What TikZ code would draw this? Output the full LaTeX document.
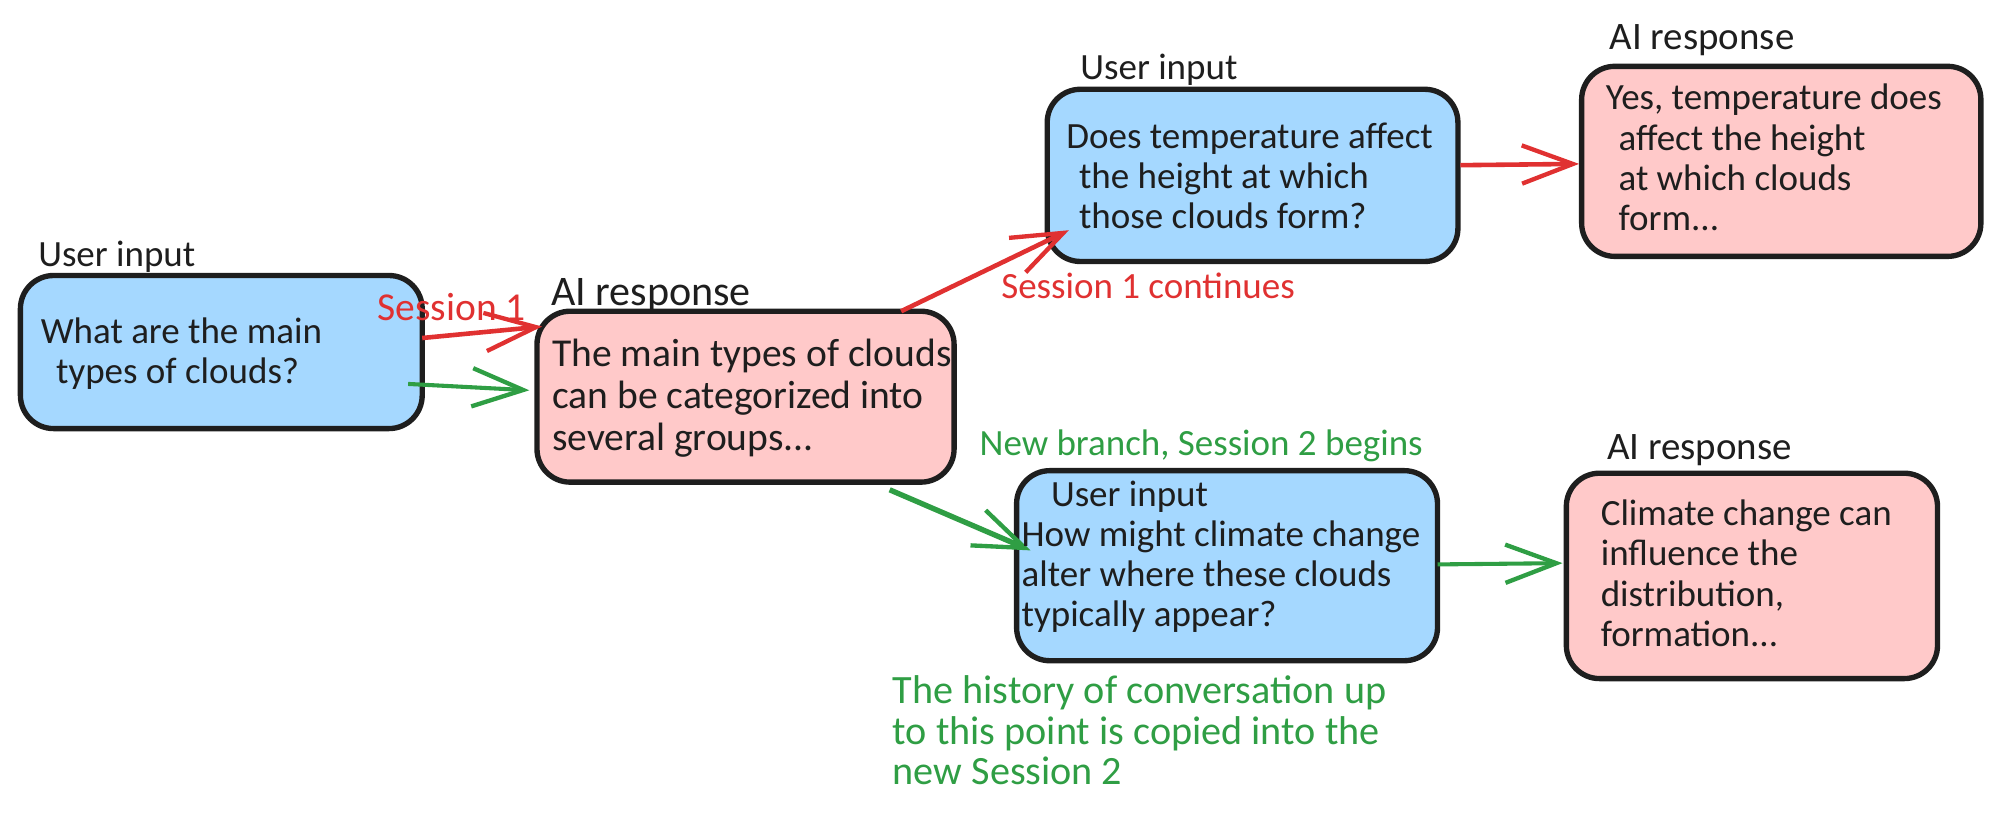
\documentclass[tikz,border=0pt]{standalone}
\usepackage{fontspec}
\setmainfont{Carlito}
\usetikzlibrary{arrows.meta}
\definecolor{ink}{HTML}{1E1E1E}
\definecolor{bluefill}{HTML}{A5D8FF}
\definecolor{pinkfill}{HTML}{FFC9C9}
\definecolor{redline}{HTML}{E03131}
\definecolor{greenline}{HTML}{2F9E44}
\tikzset{
  card/.style={draw=ink,line width=4.2pt,rounded corners=26pt,inner sep=0pt,outer sep=0pt,anchor=north west},
  bluecard/.style={card,fill=bluefill},
  pinkcard/.style={card,fill=pinkfill},
  txt/.style={inner sep=0pt,outer sep=0pt,anchor=north west,align=left,text=ink,font=\fontsize{29}{31.5}\selectfont},
  bigtxt/.style={txt,font=\fontsize{31}{33}\selectfont},
  airesp/.style={txt,font=\fontsize{30.5}{33}\selectfont},
  redtxt/.style={txt,text=redline},
  greentxt/.style={txt,text=greenline},
  tipshape/.style={-{Straight Barb[length=40pt,width=30pt,line width=3.4pt]}},
  redarrow/.style={tipshape,draw=redline,line width=3.6pt},
  greenarrow/.style={tipshape,draw=greenline,line width=3.2pt},
}
\begin{document}
\begin{tikzpicture}[x=1pt,y=-1pt]
\useasboundingbox (0,0) rectangle (1568,644.5);
\node[bluecard,minimum width=315pt,minimum height=120pt] (a) at (16,216) {};
\node[pinkcard,minimum width=327pt,minimum height=134pt] (b) at (421,244) {};
\node[bluecard,minimum width=322pt,minimum height=135pt] (c) at (821,70) {};
\node[pinkcard,minimum width=313pt,minimum height=149pt] (d) at (1240,52) {};
\node[bluecard,minimum width=330pt,minimum height=149pt] (e) at (797,369) {};
\node[pinkcard,minimum width=291pt,minimum height=161pt] (f) at (1228,371) {};

\draw[redarrow] ([yshift=11pt]a.east) -- ([xshift=4pt,yshift=55pt]b.west);
\draw[greenarrow] ([xshift=-11pt,yshift=-25pt]a.east) -- ([xshift=-6pt,yshift=5pt]b.west);
\draw[redarrow] ([xshift=122pt]b.north) -- ([xshift=17pt,yshift=-43pt]c.west);
\draw[redarrow] ([xshift=2pt,yshift=8pt]c.east) -- ([xshift=-2pt,yshift=-2pt]d.west);
\draw[greenarrow,line width=4.2pt] ([xshift=113pt,yshift=-6pt]b.south) -- ([xshift=11pt,yshift=12pt]e.west);
\draw[greenarrow] ([yshift=1pt]e.east) -- ([xshift=-3pt,yshift=10pt]f.west);

\node[txt] (la) at (30,189) {User input};
\node[txt,font=\fontsize{33}{35}\selectfont] (lb) at (432,218) {AI response};
\node[txt] (lc) at (847,42) {User input};
\node[airesp] (ld) at (1262,19) {AI response};
\node[airesp] (lf) at (1260,341) {AI response};

\node[txt] (ta) at (32,249) {What are the main\\\hspace*{12pt}types of clouds?};
\node[bigtxt] (tb) at (433,266) {The main types of clouds\\can be categorized into\\several groups...};
\node[txt] (tc) at (836,96) {Does temperature affect\\\hspace*{10pt}the height at which\\\hspace*{10pt}those clouds form?};
\node[txt] (td) at (1259,66) {Yes, temperature does\\\hspace*{10pt}affect the height\\\hspace*{10pt}at which clouds\\\hspace*{10pt}form...};
\node[txt] (te) at (801,377) {\hspace*{23pt}User input\\How might climate change\\alter where these clouds\\typically appear?};
\node[txt] (tf) at (1255,392) {Climate change can\\influence the\\distribution,\\formation...};

\node[redtxt,font=\fontsize{31}{33}\selectfont] (s1) at (296,230) {Session 1};
\node[redtxt] (s1c) at (785,214) {Session 1 continues};
\node[greentxt] (nb) at (768,337) {New branch, Session 2 begins};
\node[greentxt,font=\fontsize{31.5}{31.5}\selectfont] (hist) at (700,530) {The history of conversation up\\to this point is copied into the\\new Session 2};
\end{tikzpicture}
\end{document}
